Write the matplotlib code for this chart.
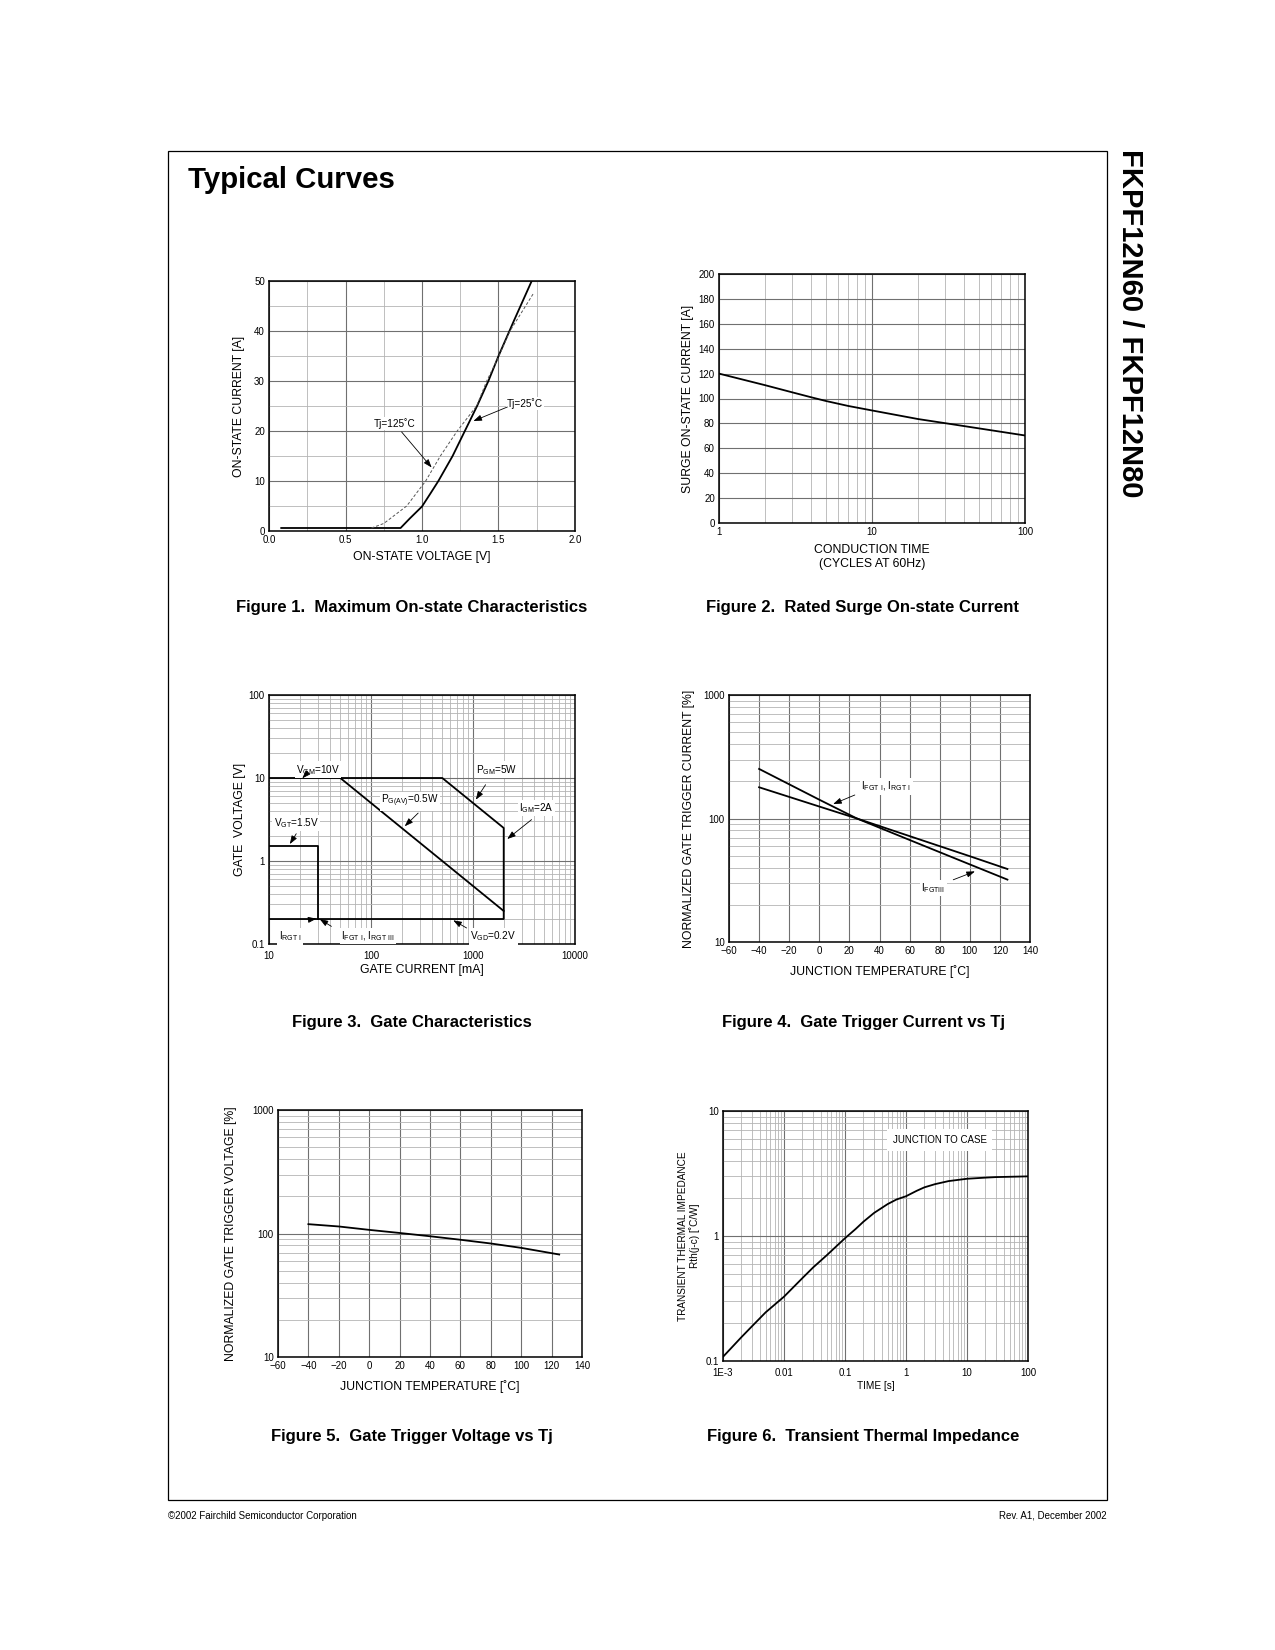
import matplotlib
matplotlib.use('Agg')
import matplotlib.pyplot as plt
from matplotlib.ticker import MultipleLocator, LogLocator, NullFormatter
from matplotlib.patches import Rectangle

plt.rcParams['font.family'] = ['Liberation Sans', 'DejaVu Sans']
plt.rcParams['mathtext.default'] = 'regular'

# Figure 1 - on-state characteristics
v_25 = [0.08, 0.86, 0.92, 1.0, 1.055, 1.107, 1.2, 1.28, 1.36, 1.434, 1.5, 1.6, 1.717]
i_25 = [0.6, 0.6, 2.5, 4.9, 7.5, 10, 15, 20, 25, 30, 35, 42, 50]
v_125 = [0.67, 0.75, 0.9, 1.024, 1.12, 1.23, 1.357, 1.423, 1.5, 1.575, 1.728]
i_125 = [0.6, 1.5, 5, 10, 15, 20, 25, 30, 34.8, 40, 47.5]

# Figure 2 - surge current
cycles = [1, 2, 3, 4, 5, 7, 10, 20, 30, 50, 100]
surge = [120, 110.7, 105, 101, 98, 94, 90.4, 83.5, 80.2, 76, 70.3]

# Figure 3 - gate characteristics
outer_i = [10, 500, 2000, 2000, 10]
outer_v = [10, 10, 2.5, 0.2, 0.2]
pav_i = [50, 2000]
pav_v = [10, 0.25]
vgt_i = [10, 30, 30]
vgt_v = [1.5, 1.5, 0.2]

# Figure 4 - gate trigger current
temp4 = [-40, 0, 25, 60, 100, 125]
igt_3 = [252, 142, 100, 67, 42.5, 32]
igt_1 = [179, 125, 100, 72, 49.5, 39]

# Figure 5 - gate trigger voltage
temp5 = [-40, -20, 0, 20, 40, 60, 80, 100, 125]
vgt_n = [119, 114, 107, 101, 95, 89, 83, 76.5, 67.6]

# Figure 6 - transient thermal impedance
t_s = [1e-3, 2e-3, 3e-3, 5e-3, 1e-2, 2e-2, 3e-2, 0.05, 0.1, 0.15, 0.2, 0.3, 0.5, 0.7, 1,
       1.5, 2, 3, 5, 10, 20, 30, 100]
zth = [0.108, 0.155, 0.19, 0.245, 0.327, 0.46, 0.56, 0.7, 0.96, 1.14, 1.3, 1.53, 1.8, 1.96, 2.08,
       2.3, 2.45, 2.6, 2.75, 2.87, 2.93, 2.96, 3.0]

W, H = 1275, 1650
fig = plt.figure(figsize=(12.75, 16.5), dpi=100)


def box(l, t, r, b):
    return fig.add_axes([l / W, 1 - b / H, (r - l) / W, (b - t) / H])


def style(ax):
    for s in ax.spines.values():
        s.set_linewidth(1.1)
    ax.tick_params(which='both', length=0, labelsize=7, pad=3)
    ax.grid(which='major', color='#707070', lw=0.8)
    ax.grid(which='minor', color='#b4b4b4', lw=0.6)
    ax.set_axisbelow(True)


def labels(ax, xl, yl, xpos, ypos, size=8.8):
    ax.set_xlabel(xl, fontsize=size, va='center')
    ax.set_ylabel(yl, fontsize=size, va='center')
    ax.xaxis.set_label_coords(0.5, xpos)
    ax.yaxis.set_label_coords(ypos, 0.5)


def arrow(ax, start, end):
    ax.annotate('', xy=end, xytext=start,
                arrowprops=dict(arrowstyle='-|>,head_length=0.5,head_width=0.18',
                                color='k', lw=0.6, shrinkA=0, shrinkB=0))


def tag(ax, x, y, s, size=7.2):
    ax.text(x, y, s, fontsize=size, ha='center', va='center',
            bbox=dict(fc='white', ec='none', pad=1))


# ---- Figure 1
ax1 = box(269, 281, 575, 531)
ax1.plot(v_25, i_25, color='k', lw=1.3)
ax1.plot(v_125, i_125, color='#555555', lw=0.7, dashes=(3, 2))
ax1.set_xlim(0, 2)
ax1.set_ylim(0, 50)
ax1.set_xticks([0, 0.5, 1.0, 1.5, 2.0], ['0.0', '0.5', '1.0', '1.5', '2.0'])
ax1.set_yticks(range(0, 51, 10))
ax1.xaxis.set_minor_locator(MultipleLocator(0.25))
ax1.yaxis.set_minor_locator(MultipleLocator(5))
style(ax1)
labels(ax1, 'ON-STATE VOLTAGE [V]', 'ON-STATE CURRENT [A]', -0.104, -0.098)
tag(ax1, 0.824, 21.5, 'Tj=125˚C')
arrow(ax1, (0.867, 19.8), (1.063, 12.7))
tag(ax1, 1.673, 25.5, 'Tj=25˚C')
arrow(ax1, (1.558, 24.8), (1.336, 22.0))

# ---- Figure 2
ax2 = box(719, 274, 1025, 523)
ax2.plot(cycles, surge, color='k', lw=1.3)
ax2.set_xscale('log')
ax2.set_xlim(1, 100)
ax2.set_ylim(0, 200)
ax2.set_xticks([1, 10, 100], ['1', '10', '100'])
ax2.xaxis.set_minor_locator(LogLocator(base=10, subs=range(2, 10)))
ax2.xaxis.set_minor_formatter(NullFormatter())
ax2.set_yticks(range(0, 201, 20))
style(ax2)
labels(ax2, 'CONDUCTION TIME\n(CYCLES AT 60Hz)', 'SURGE ON-STATE CURRENT [A]', -0.137, -0.101)

# ---- Figure 3
ax3 = box(269, 695, 575, 944)
ax3.plot(outer_i, outer_v, color='k', lw=1.3)
ax3.plot(pav_i, pav_v, color='k', lw=1.3)
ax3.plot(vgt_i, vgt_v, color='k', lw=1.3)
ax3.set_xscale('log')
ax3.set_yscale('log')
ax3.set_xlim(10, 10000)
ax3.set_ylim(0.1, 100)
ax3.set_xticks([10, 100, 1000, 10000], ['10', '100', '1000', '10000'])
ax3.set_yticks([0.1, 1, 10, 100], ['0.1', '1', '10', '100'])
for a in (ax3.xaxis, ax3.yaxis):
    a.set_minor_locator(LogLocator(base=10, subs=range(2, 10)))
    a.set_minor_formatter(NullFormatter())
style(ax3)
ax3.tick_params(axis='x', pad=5)
labels(ax3, 'GATE CURRENT [mA]', 'GATE  VOLTAGE [V]', -0.104, -0.095)
tag(ax3, 30.3, 12.6, 'V$_{GM}$=10V')
arrow(ax3, (24.1, 11.7), (21.2, 9.9))
tag(ax3, 1702, 12.6, 'P$_{GM}$=5W')
arrow(ax3, (1328, 8.3), (1067, 5.48))
tag(ax3, 240, 5.24, 'P$_{G(AV)}$=0.5W')
arrow(ax3, (290, 3.78), (214, 2.62))
tag(ax3, 4198, 4.35, 'I$_{GM}$=2A')
arrow(ax3, (3751, 3.15), (2167, 1.84))
tag(ax3, 18.5, 2.87, 'V$_{GT}$=1.5V')
arrow(ax3, (18.5, 2.13), (16.0, 1.60))
tag(ax3, 16.2, 0.124, r'I$_{RGT\ I}$')
arrow(ax3, (24.7, 0.196), (29.2, 0.202))
tag(ax3, 93.8, 0.124, r'I$_{FGT\ I}$, I$_{RGT\ III}$')
arrow(ax3, (40.9, 0.163), (31.4, 0.2))
tag(ax3, 1579, 0.124, 'V$_{GD}$=0.2V')
arrow(ax3, (865, 0.156), (640, 0.193))

# ---- Figure 4
ax4 = box(729, 695, 1030, 942)
ax4.plot(temp4, igt_3, color='k', lw=1.3)
ax4.plot(temp4, igt_1, color='k', lw=1.3)
ax4.set_yscale('log')
ax4.set_xlim(-60, 140)
ax4.set_ylim(10, 1000)
ax4.set_xticks(range(-60, 141, 20))
ax4.set_yticks([10, 100, 1000], ['10', '100', '1000'])
ax4.yaxis.set_minor_locator(LogLocator(base=10, subs=range(2, 10)))
ax4.yaxis.set_minor_formatter(NullFormatter())
style(ax4)
labels(ax4, 'JUNCTION TEMPERATURE [˚C]', 'NORMALIZED GATE TRIGGER CURRENT [%]', -0.121, -0.133)
tag(ax4, 44.7, 181, r'I$_{FGT\ I}$, I$_{RGT\ I}$')
arrow(ax4, (23.6, 155), (9.2, 131))
tag(ax4, 75.7, 27.3, r'I$_{FGT III}$')
arrow(ax4, (89, 31.9), (103.4, 37.3))

# ---- Figure 5
ax5 = box(278, 1110, 582, 1357)
ax5.plot(temp5, vgt_n, color='k', lw=1.3)
ax5.set_yscale('log')
ax5.set_xlim(-60, 140)
ax5.set_ylim(10, 1000)
ax5.set_xticks(range(-60, 141, 20))
ax5.set_yticks([10, 100, 1000], ['10', '100', '1000'])
ax5.yaxis.set_minor_locator(LogLocator(base=10, subs=range(2, 10)))
ax5.yaxis.set_minor_formatter(NullFormatter())
style(ax5)
labels(ax5, 'JUNCTION TEMPERATURE [˚C]', 'NORMALIZED GATE TRIGGER VOLTAGE [%]', -0.121, -0.155)

# ---- Figure 6
ax6 = box(723, 1111, 1028, 1361)
ax6.plot(t_s, zth, color='k', lw=1.3)
ax6.set_xscale('log')
ax6.set_yscale('log')
ax6.set_xlim(1e-3, 100)
ax6.set_ylim(0.1, 10)
ax6.set_xticks([1e-3, 0.01, 0.1, 1, 10, 100], ['1E-3', '0.01', '0.1', '1', '10', '100'])
ax6.set_yticks([0.1, 1, 10], ['0.1', '1', '10'])
for a in (ax6.xaxis, ax6.yaxis):
    a.set_minor_locator(LogLocator(base=10, subs=range(2, 10)))
    a.set_minor_formatter(NullFormatter())
style(ax6)
ax6.tick_params(axis='x', pad=5)
labels(ax6, 'TIME [s]', 'TRANSIENT THERMAL IMPEDANCE\nRth(j-c) [˚C/W]', -0.1, -0.111, size=7.2)
ax6.text(3.56, 5.86, 'JUNCTION TO CASE', fontsize=7, ha='center', va='center',
         bbox=dict(fc='white', ec='none', pad=4))

# ---- page furniture
fig.add_artist(Rectangle((168 / W, 1 - 1500 / H), (1107 - 168) / W, (1500 - 151) / H,
                         transform=fig.transFigure, fill=False, lw=0.9, ec='k'))
fig.text(188 / W, 1 - 188 / H, 'Typical Curves', fontsize=21.2, fontweight='bold', va='baseline')
fig.text(1130 / W, 1 - 323 / H, 'FKPF12N60 / FKPF12N80', rotation=270, fontsize=21,
         fontweight='bold', ha='center', va='center')

captions = [
    (412, 608, 'Figure 1.  Maximum On-state Characteristics'),
    (863, 608, 'Figure 2.  Rated Surge On-state Current'),
    (412, 1023, 'Figure 3.  Gate Characteristics'),
    (863, 1023, 'Figure 4.  Gate Trigger Current vs Tj'),
    (412, 1437, 'Figure 5.  Gate Trigger Voltage vs Tj'),
    (863, 1437, 'Figure 6.  Transient Thermal Impedance'),
]
for x, y, s in captions:
    fig.text(x / W, 1 - y / H, s, fontsize=12, fontweight='bold', ha='center', va='center')

fig.text(168 / W, 1 - 1516 / H, '©2002 Fairchild Semiconductor Corporation', fontsize=7, va='center')
fig.text(1107 / W, 1 - 1516 / H, 'Rev. A1, December 2002', fontsize=7, va='center', ha='right')

fig.savefig('out.png', dpi=100)
